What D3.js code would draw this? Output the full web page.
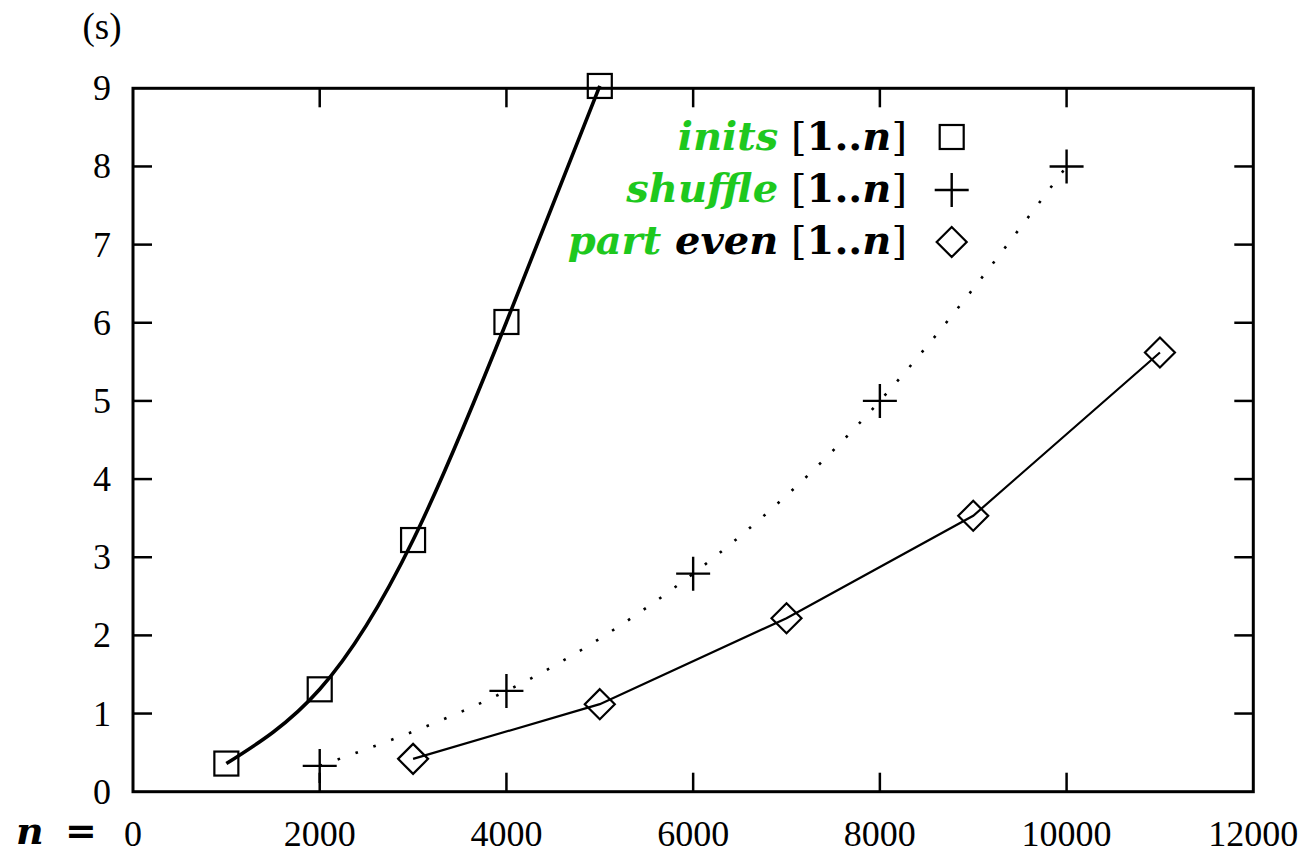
<!DOCTYPE html>
<html>
<head>
<meta charset="utf-8">
<script src="https://cdn.jsdelivr.net/npm/d3@7"></script>
<style>
  body { margin: 0; background: #fff; }
  svg text { font-family: "Liberation Serif", "DejaVu Serif", serif; }
</style>
</head>
<body>
<svg id="chart" width="1305" height="854"></svg>
<script>
// ---- data ----
const initsN = [1000, 2000, 3000, 4000, 5000];
const initsT = [0.36, 1.31, 3.22, 6.01, 9.03];
const shuffleN = [2000, 4000, 6000, 8000, 10000];
const shuffleT = [0.33, 1.29, 2.79, 5.0, 8.0];
const partN = [3000, 5000, 7000, 9000, 11000];
const partT = [0.42, 1.12, 2.22, 3.53, 5.62];
const xTicks = [0, 2000, 4000, 6000, 8000, 10000, 12000];
const yTicks = [0, 1, 2, 3, 4, 5, 6, 7, 8, 9];
const legendNames = ["inits", "shuffle", "part"];

const green = "#1ec81e";
const svg = d3.select("#chart");
const W = 1305, H = 854;
const m = {left: 133, right: 51.7, top: 88.3, bottom: 62.3};
const x = d3.scaleLinear().domain([0, 12000]).range([m.left, W - m.right]);
const y = d3.scaleLinear().domain([0, 9]).range([H - m.bottom, m.top]);

// frame
svg.append("rect").attr("x", x(0)).attr("y", y(9))
  .attr("width", x(12000) - x(0)).attr("height", y(0) - y(9))
  .attr("fill", "none").attr("stroke", "#000").attr("stroke-width", 3);

const tickLen = 19;
// x ticks (inward, bottom and top)
const gx = svg.append("g");
xTicks.slice(1, -1).forEach(t => {
  gx.append("line").attr("x1", x(t)).attr("x2", x(t)).attr("y1", y(0)).attr("y2", y(0) - tickLen)
    .attr("stroke", "#000").attr("stroke-width", 2.5);
  gx.append("line").attr("x1", x(t)).attr("x2", x(t)).attr("y1", y(9)).attr("y2", y(9) + tickLen)
    .attr("stroke", "#000").attr("stroke-width", 2.5);
});
xTicks.forEach(t => {
  gx.append("text").attr("x", x(t)).attr("y", 846).attr("text-anchor", "middle")
    .attr("font-size", 36).text(t);
});
// n =
const nl = svg.append("text").attr("y", 844).attr("font-size", 38)
  .style("font-family", "'DejaVu Serif', serif").attr("font-weight", "bold");
nl.append("tspan").attr("x", 16).attr("font-style", "italic").text("n");
nl.append("tspan").attr("x", 65).text("=");

// y ticks (inward, left and right)
const gy = svg.append("g");
yTicks.slice(1, -1).forEach(t => {
  gy.append("line").attr("x1", x(0)).attr("x2", x(0) + tickLen).attr("y1", y(t)).attr("y2", y(t))
    .attr("stroke", "#000").attr("stroke-width", 2.5);
  gy.append("line").attr("x1", x(12000)).attr("x2", x(12000) - tickLen).attr("y1", y(t)).attr("y2", y(t))
    .attr("stroke", "#000").attr("stroke-width", 2.5);
});
yTicks.forEach(t => {
  gy.append("text").attr("x", 111).attr("y", y(t) + 12).attr("text-anchor", "end")
    .attr("font-size", 36).text(t);
});
svg.append("text").attr("x", 102).attr("y", 39).attr("text-anchor", "middle").attr("font-size", 37).text("(s)");

// lines
const mk = (ns, ts) => ns.map((n, i) => [n, ts[i]]);
const inits = mk(initsN, initsT), shuffle = mk(shuffleN, shuffleT), part = mk(partN, partT);

svg.append("path").datum(inits)
  .attr("d", d3.line().x(d => x(d[0])).y(d => y(d[1])).curve(d3.curveNatural))
  .attr("fill", "none").attr("stroke", "#000").attr("stroke-width", 3.6);
svg.append("path").datum(shuffle)
  .attr("d", d3.line().x(d => x(d[0])).y(d => y(d[1])).curve(d3.curveNatural))
  .attr("fill", "none").attr("stroke", "#000").attr("stroke-width", 2.6)
  .attr("stroke-dasharray", "2.6 16.4");
svg.append("path").datum(part)
  .attr("d", d3.line().x(d => x(d[0])).y(d => y(d[1])))
  .attr("fill", "none").attr("stroke", "#000").attr("stroke-width", 2.2);

// markers
function square(g, cx, cy) {
  g.append("rect").attr("x", cx - 12).attr("y", cy - 12).attr("width", 24).attr("height", 24)
    .attr("fill", "none").attr("stroke", "#000").attr("stroke-width", 2.2);
}
function plus(g, cx, cy) {
  g.append("path").attr("d", `M${cx - 17},${cy}H${cx + 17}M${cx},${cy - 17}V${cy + 17}`)
    .attr("stroke", "#000").attr("stroke-width", 2.4).attr("fill", "none");
}
function diamond(g, cx, cy) {
  g.append("path").attr("d", `M${cx},${cy - 15}L${cx + 15},${cy}L${cx},${cy + 15}L${cx - 15},${cy}Z`)
    .attr("stroke", "#000").attr("stroke-width", 2.2).attr("fill", "none");
}
const gm = svg.append("g");
inits.forEach(d => square(gm, x(d[0]), y(d[1])));
shuffle.forEach(d => plus(gm, x(d[0]), y(d[1])));
part.forEach(d => diamond(gm, x(d[0]), y(d[1])));

// legend
const lx = 907, rows = [150, 202, 254], mx = 951.7, mys = [137, 190, 242];
const lg = svg.append("g").attr("font-size", 40).style("font-family", "'DejaVu Serif', serif");
rows.forEach((ry, i) => {
  const t = lg.append("text").attr("x", lx).attr("y", ry).attr("text-anchor", "end")
    .style("font-family", "'DejaVu Serif', serif");
  t.append("tspan").attr("fill", green).attr("font-weight", "bold").attr("font-style", "italic").text(legendNames[i]);
  if (i === 2) t.append("tspan").attr("font-weight", "bold").attr("font-style", "italic").text(" even");
  t.append("tspan").attr("font-weight", "normal").text(" [");
  t.append("tspan").attr("font-weight", "bold").text("1..");
  t.append("tspan").attr("font-weight", "bold").attr("font-style", "italic").text("n");
  t.append("tspan").attr("font-weight", "normal").text("]");
});
square(lg, mx, mys[0]);
plus(lg, mx, mys[1]);
diamond(lg, mx, mys[2]);
</script>
</body>
</html>
